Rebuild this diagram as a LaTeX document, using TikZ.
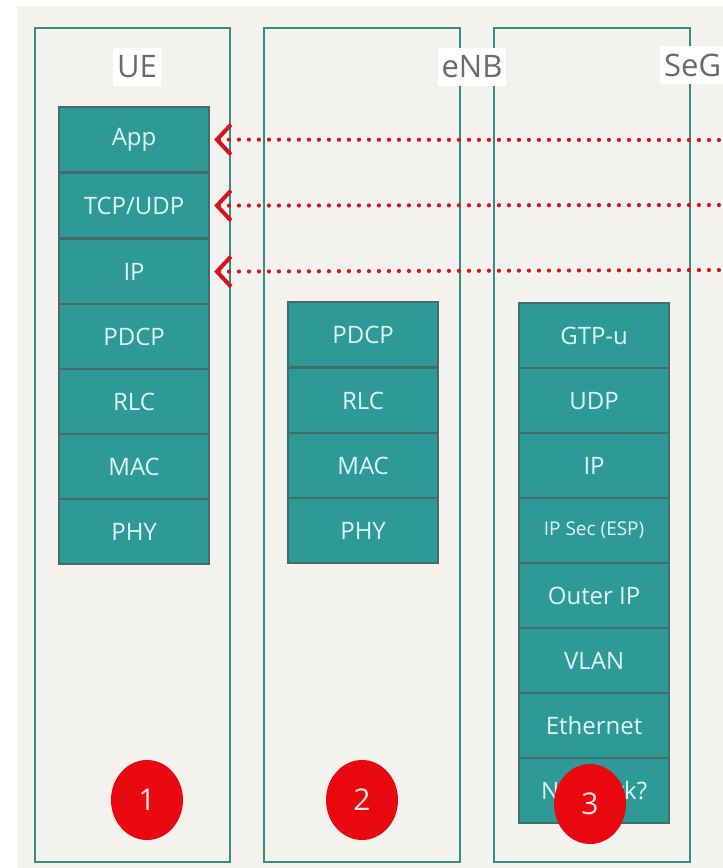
\documentclass[tikz,border=0pt]{standalone}
\usepackage{fontspec}
\setmainfont{Open Sans}
\usetikzlibrary{arrows.meta,shapes.geometric}
\definecolor{paper}{HTML}{F4F2EE}
\definecolor{frame}{HTML}{3A8C80}
\definecolor{cellfill}{HTML}{2E9A97}
\definecolor{celledge}{HTML}{456B6B}
\definecolor{celltext}{HTML}{DDF6F2}
\definecolor{labeltext}{HTML}{6A6A6A}
\definecolor{mark}{HTML}{E8080E}
\definecolor{flow}{HTML}{D8121E}
\tikzset{
  group/.style={draw=frame, line width=2.6pt},
  cell/.style={draw=celledge, fill=cellfill, line width=2.2pt, text=celltext,
    minimum width=150pt, minimum height=65pt, inner sep=0pt, anchor=north west,
    font=\fontsize{24}{24}\selectfont},
  small/.style={font=\fontsize{19}{19}\selectfont},
  title/.style={fill=white, text=labeltext, inner sep=4pt, minimum height=38pt,
    font=\fontsize{31}{31}\selectfont},
  badge/.style={ellipse, fill=mark, minimum width=72pt, minimum height=80pt,
    text=white!88!red, inner sep=0pt, font=\fontsize{30}{30}\selectfont},
  flowline/.style={draw=flow, line width=4.2pt, line cap=round,
    dash pattern=on 0pt off 10pt,
    {Straight Barb[length=14pt,width=30pt,line width=4pt]}-},
}
\begin{document}
\begin{tikzpicture}[x=1pt,y=-1pt]
\useasboundingbox (0,0) rectangle (723,868);
\fill[white] (0,0) rectangle (723,868);
\fill[paper] (17,6) rectangle (723,868);

% outer frames
\draw[group] (35,28) rectangle (230,862);
\draw[group] (264,28) rectangle (460,862);
\draw[group] (494,28) rectangle (690,862);

% frame titles
\node[title] (tUE) at (137,67) {UE};
\node[title] (tENB) at (472,67) {eNB};
\node[title, anchor=west] (tSEG) at (660,65) {SeG};

% UE stack
\node[cell] (ueApp) at (58,106) {App};
\node[cell] (ueTcp) at (58,172) {TCP/UDP};
\node[cell] (ueIp) at (58,238) {IP};
\node[cell] (uePdcp) at (58,303) {PDCP};
\node[cell] (ueRlc) at (58,368) {RLC};
\node[cell] (ueMac) at (58,433) {MAC};
\node[cell] (uePhy) at (58,498) {PHY};

% eNB stack
\node[cell] (enPdcp) at (287,301) {PDCP};
\node[cell] (enRlc) at (287,367) {RLC};
\node[cell] (enMac) at (287,432) {MAC};
\node[cell] (enPhy) at (287,497) {PHY};

% SeG stack
\node[cell] (sgGtp) at (518,302) {GTP-u};
\node[cell] (sgUdp) at (518,367) {UDP};
\node[cell] (sgIp) at (518,432) {IP};
\node[cell, small] (sgSec) at (518,497) {IP Sec (ESP)};
\node[cell] (sgOuter) at (518,562) {Outer IP};
\node[cell] (sgVlan) at (518,627) {VLAN};
\node[cell] (sgEth) at (518,692) {Ethernet};
\node[cell] (sgNet) at (518,757) {Network?};

% end-to-end flows
\coordinate (fApp) at (723,140);
\coordinate (fTcp) at (723,205);
\coordinate (fIp) at (723,270);
\draw[flowline] ([xshift=4pt]ueApp.east) -- (fApp);
\draw[flowline] ([xshift=4pt]ueTcp.east) -- (fTcp);
\draw[flowline] ([xshift=4pt]ueIp.east) -- (fIp);

% numbered markers
\node[badge] (m1) at (147,800) {1};
\node[badge] (m2) at (362,800) {2};
\node[badge] (m3) at (590,804) {3};
\end{tikzpicture}
\end{document}
